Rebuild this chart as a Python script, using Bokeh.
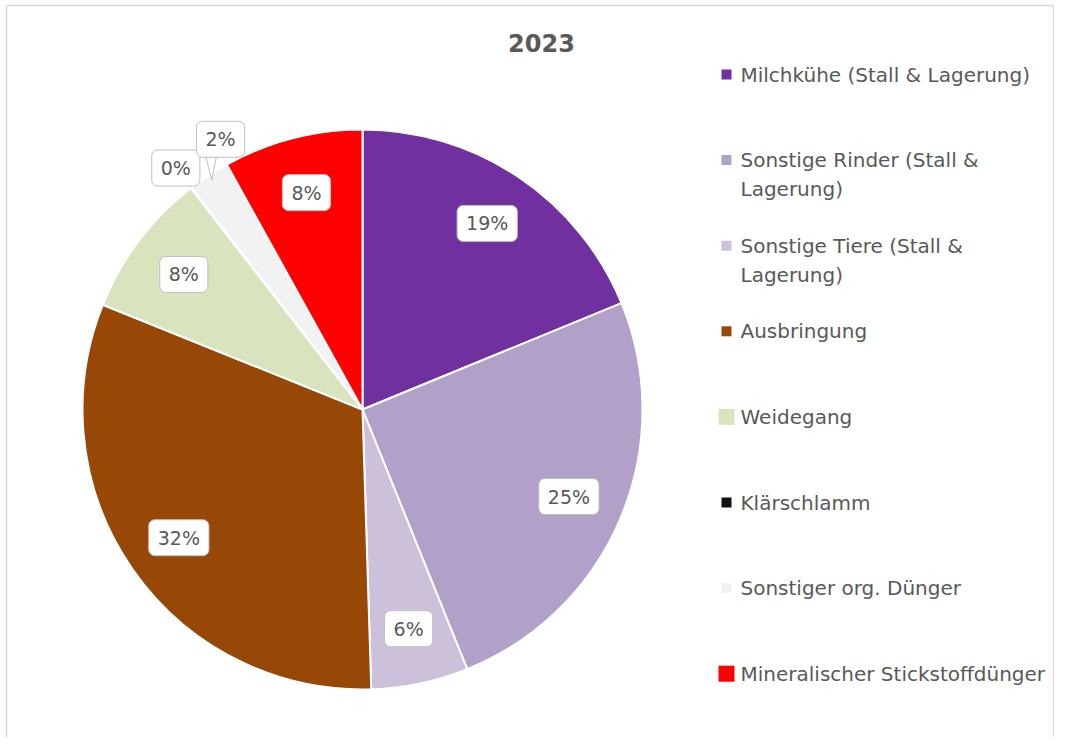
import math
from bokeh.plotting import figure
from bokeh.models import Label, ColumnDataSource, Range1d
from bokeh.core.properties import value
from bokeh.embed import file_html
from bokeh.resources import INLINE

# ---- data ----
title_text = "2023"
categories = [
    "Milchkühe (Stall & Lagerung)",
    "Sonstige Rinder (Stall & Lagerung)",
    "Sonstige Tiere (Stall & Lagerung)",
    "Ausbringung",
    "Weidegang",
    "Klärschlamm",
    "Sonstiger org. Dünger",
    "Mineralischer Stickstoffdünger",
]
legend_labels = [
    "Milchkühe (Stall & Lagerung)",
    "Sonstige Rinder (Stall &\nLagerung)",
    "Sonstige Tiere (Stall &\nLagerung)",
    "Ausbringung",
    "Weidegang",
    "Klärschlamm",
    "Sonstiger org. Dünger",
    "Mineralischer Stickstoffdünger",
]
shares = [18.8, 25.1, 5.6, 31.6, 8.4, 0.05, 2.4, 8.05]
colors = ["#7030A0", "#B1A0C7", "#CCC0DA", "#974706", "#D7E4BD", "#0C140C", "#F2F2F2", "#FF0000"]

# ---- layout ----
W, H = 1054, 737


def dx(X):
    return X


def dy(Y):
    return H - Y


FONT = "DejaVu Sans"
TXT = "#595959"
cx, cy = dx(362), dy(409)
R = 280

p = figure(width=W, height=H, x_range=Range1d(0, W), y_range=Range1d(0, H),
           min_border=0, toolbar_location=None, output_backend="svg")
p.axis.visible = False
p.grid.visible = False
p.outline_line_color = None
p.background_fill_color = "white"
p.border_fill_color = "white"

# chart border (like the spreadsheet chart area)
p.quad(left=dx(6), right=W - 1, top=dy(5), bottom=-10, fill_color=None,
       line_color="#D9D9D9", line_width=1.5)

total = sum(shares)
starts, ends, cum = [], [], 0.0
for s in shares:
    starts.append(cum / total)
    cum += s
    ends.append(cum / total)

src = ColumnDataSource(dict(
    cat=categories,
    share=shares,
    color=colors,
    start=[math.pi / 2 - 2 * math.pi * a for a in starts],
    end=[math.pi / 2 - 2 * math.pi * b for b in ends],
))
p.wedge(x=cx, y=cy, radius=R, radius_units="screen", start_angle="start", end_angle="end",
        direction="clock", fill_color="color", line_color="white", line_width=2, source=src)

# ---- data labels ----
prev_out = None
n_out = 0
for s, a, b in zip(shares, starts, ends):
    mid = (a + b) / 2 * 360.0
    outside = s < 4
    if not outside:
        r = 0.8 * R
        ang = mid
    else:
        r = 1.09 * R
        ang = mid if prev_out is None else max(mid, prev_out + 10)
        prev_out = ang
    t = math.radians(ang)
    lx = cx + r * math.sin(t)
    ly = cy + r * math.cos(t)
    if outside and n_out > 0:
        # callout tail pointing at the slice
        tm = math.radians(mid)
        tipx = cx + 0.98 * R * math.sin(tm)
        tipy = cy + 0.98 * R * math.cos(tm)
        p.patch(x=[lx - 15, tipx, lx - 4], y=[ly - 16, tipy, ly - 16],
                fill_color="white", line_color="#BFBFBF", line_width=1)
    if outside:
        n_out += 1
    p.add_layout(Label(x=lx, y=ly, text=f"{round(s)}%", text_align="center", text_baseline="middle",
                       text_font=FONT, text_font_size="19px", text_color=TXT,
                       background_fill_color="white", border_line_color="#BFBFBF", border_line_width=1,
                       border_radius=6, padding=dict(left=9, right=9, top=7, bottom=7)))

# ---- title ----
p.add_layout(Label(x=dx(541), y=dy(42), text=title_text, text_align="center", text_baseline="middle",
                   text_font=FONT, text_font_size="24px", text_font_style="bold", text_color=TXT))

# ---- legend (drawn manually) ----
leg_x_marker = dx(726)
leg_x_text = dx(740)
leg_y0 = 74
leg_step = 85.6
line_gap = 29
marker_sizes = [10, 10, 10, 10, 16, 10, 10, 16]
mx, my = [], []
tx, ty, tt = [], [], []
for i, lab in enumerate(legend_labels):
    Y = leg_y0 + i * leg_step
    mx.append(leg_x_marker)
    my.append(dy(Y))
    for j, line in enumerate(lab.split("\n")):
        tx.append(leg_x_text)
        ty.append(dy(Y + j * line_gap))
        tt.append(line)
p.scatter(x=mx, y=my, size=marker_sizes, marker="square", fill_color=colors, line_color=None)
p.text(x=tx, y=ty, text=tt, text_font=value(FONT), text_font_size="20px", text_color=TXT,
       text_baseline="middle", text_align="left")

open("out.html", "w").write(file_html(p, INLINE))
